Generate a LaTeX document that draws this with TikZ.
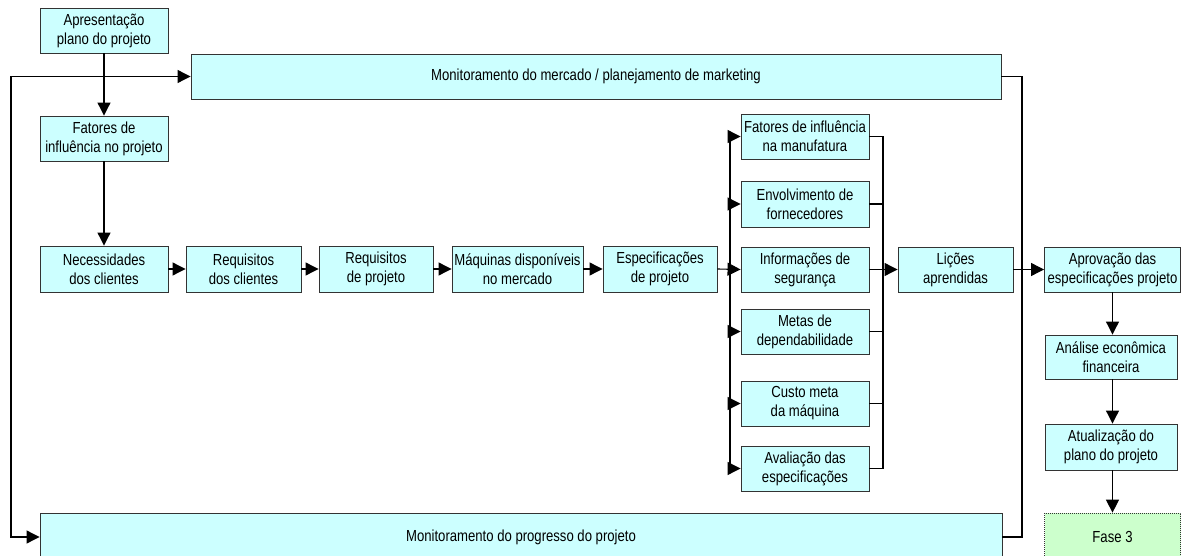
\documentclass[tikz,border=0pt]{standalone}
\usepackage{fontspec}
\setmainfont{Liberation Sans}[FakeStretch=0.82]
\usetikzlibrary{arrows.meta}
\definecolor{boxfill}{HTML}{CCFFFF}
\definecolor{fasefill}{HTML}{CCFFCC}
\definecolor{boxline}{HTML}{333333}
\begin{document}
\begin{tikzpicture}[x=1pt,y=-1pt,
  box/.style={draw=boxline, line width=0.9pt, fill=boxfill, align=center, inner sep=0pt,
              font=\fontsize{16}{19}\selectfont},
  wh/.style 2 args={minimum width=#1pt, minimum height=#2pt},
  conn/.style={line width=1.1pt, draw=black},
  arr/.style={conn, -{Triangle[length=13pt,width=13pt]}},
]
\useasboundingbox (0,0) rectangle (1181,556);

% nodes
\node[box, wh={128}{45}] (apr) at (104,30.5) {Apresentação\\plano do projeto};
\node[box, wh={810}{45}] (mkt) at (596,76.5) {Monitoramento do mercado / planejamento de marketing};
\node[box, wh={128}{45}] (fat) at (104,138.5) {Fatores de\\influência no projeto};
\node[box, wh={128}{46}] (nec) at (104,269) {Necessidades\\dos clientes};
\node[box, wh={115}{46}] (rqc) at (243.5,269) {Requisitos\\dos clientes};
\node[box, wh={114}{46}] (rqp) at (376,269) {Requisitos\\de projeto};
\node[box, wh={131}{46}] (maq) at (517.5,269) {Máquinas disponíveis\\no mercado};
\node[box, wh={114}{46}] (esp) at (660,269) {Especificações\\de projeto};
\node[box, wh={128}{45}] (fm)  at (805,136.5) {Fatores de influência\\na manufatura};
\node[box, wh={128}{46}] (env) at (805,204) {Envolvimento de\\fornecedores};
\node[box, wh={128}{45}] (inf) at (805,269.5) {Informações de\\segurança};
\node[box, wh={128}{45}] (met) at (805,331.5) {Metas de\\dependabilidade};
\node[box, wh={128}{45}] (cus) at (805,403.5) {Custo meta\\da máquina};
\node[box, wh={128}{45}] (ava) at (805,468.5) {Avaliação das\\especificações};
\node[box, wh={115}{45}] (lic) at (955.5,269.5) {Lições\\aprendidas};
\node[box, wh={136}{45}] (aprov) at (1112.5,269.5) {Aprovação das\\especificações projeto};
\node[box, wh={132}{44}] (ana) at (1111,357) {Análise econômica\\financeira};
\node[box, wh={132}{46}] (atu) at (1111,447) {Atualização do\\plano do projeto};
\node[box, wh={136}{48}, fill=fasefill, line width=0.7pt, dash pattern=on 0.8pt off 1.2pt] (fase) at (1112.5,537) {Fase 3};
\node[box, wh={962}{48}] (prog) at (521,537) {Monitoramento do progresso do projeto};

% helper coordinates
\coordinate (lx) at (11,0);
\coordinate (bus) at (730,0);
\coordinate (rbus) at (883,0);
\coordinate (rx) at (1022,0);
\coordinate (j1) at (apr.south |- mkt.west);

% left top connectors
\draw[arr] (apr.south) -- (fat.north);
\draw[arr] (j1) -- (mkt.west);
\draw[arr] (j1) -- (lx |- j1) -- (lx |- prog.west) -- (prog.west);
\draw[arr] (fat.south) -- (nec.north);

% main chain
\draw[arr] (nec.east) -- (rqc.west);
\draw[arr] (rqc.east) -- (rqp.west);
\draw[arr] (rqp.east) -- (maq.west);
\draw[arr] (maq.east) -- (esp.west);
\draw[arr] (esp.east) -- (inf.west);

% left bus
\draw[conn] (bus |- fm.west) -- (bus |- ava.west);
\foreach \n in {fm,env,met,cus,ava}{
  \draw[arr] (bus |- \n.west) -- (\n.west);
}

% right bus
\draw[conn] (rbus |- fm.east) -- (rbus |- ava.east);
\foreach \n in {fm,env,inf,met,cus,ava}{
  \draw[conn] (\n.east) -- (rbus |- \n.east);
}
\draw[arr] (rbus |- lic.west) -- (lic.west);

% right side
\draw[arr] (lic.east) -- (aprov.west);
\draw[conn] (mkt.east) -- (rx |- mkt.east) -- (rx |- prog.east) -- (prog.east);
\draw[arr] (aprov.south) -- (aprov.south |- ana.north);
\draw[arr] (aprov.south |- ana.south) -- (aprov.south |- atu.north);
\draw[arr] (aprov.south |- atu.south) -- (aprov.south |- fase.north);
\end{tikzpicture}
\end{document}
